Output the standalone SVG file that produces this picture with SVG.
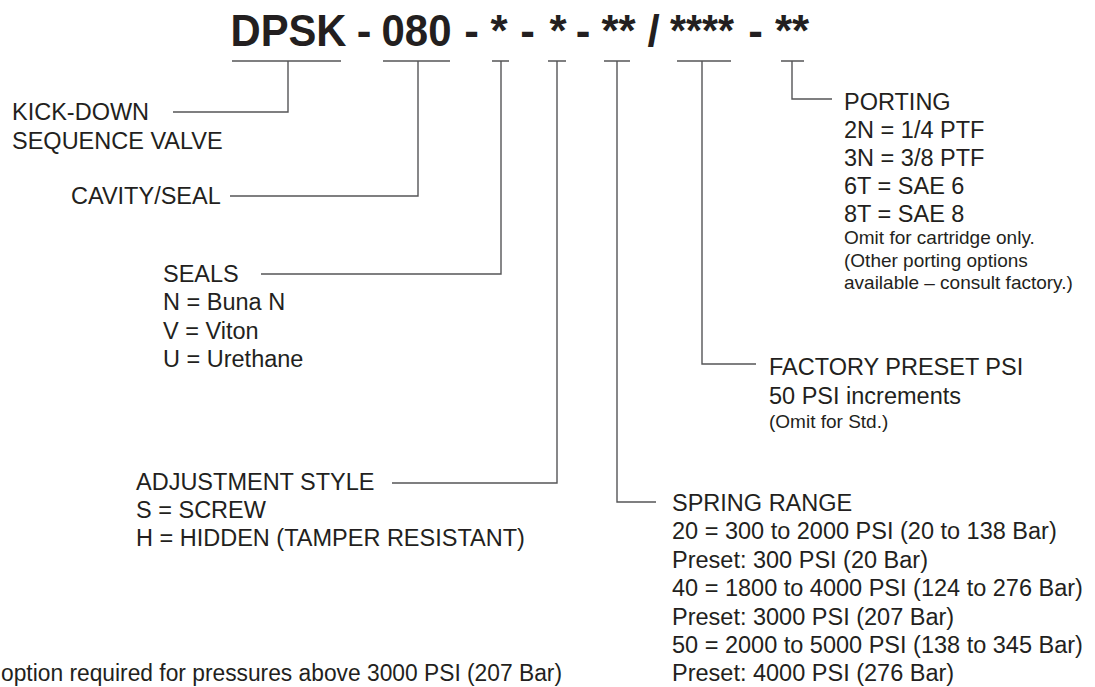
<svg xmlns="http://www.w3.org/2000/svg" width="1095" height="687" viewBox="0 0 1095 687">
<style>
.t{font-family:"Liberation Sans",Arial,Helvetica,sans-serif;font-size:23.5px;fill:#231f20}
.s{font-family:"Liberation Sans",Arial,Helvetica,sans-serif;font-size:19px;fill:#231f20}
.h{font-family:"Liberation Sans",Arial,Helvetica,sans-serif;font-size:44px;font-weight:bold;fill:#231f20;text-anchor:middle}
.c{fill:none;stroke:#555557;stroke-width:1.4}
</style>
<rect width="1095" height="687" fill="#ffffff"/>
<g id="title">
<text class="h" x="288.5" y="46" textLength="116" lengthAdjust="spacingAndGlyphs">DPSK</text>
<text class="h" x="364" y="46">-</text>
<text class="h" x="416.5" y="46" textLength="70" lengthAdjust="spacingAndGlyphs">080</text>
<text class="h" x="471.5" y="46">-</text>
<text class="h" x="499" y="46">*</text>
<text class="h" x="527.5" y="46">-</text>
<text class="h" x="558" y="46">*</text>
<text class="h" x="583" y="46">-</text>
<text class="h" x="618.5" y="46">**</text>
<text class="h" x="653.5" y="46">/</text>
<text class="h" x="702" y="46" textLength="64" lengthAdjust="spacingAndGlyphs">****</text>
<text class="h" x="755.5" y="46">-</text>
<text class="h" x="792" y="46">**</text>
</g>
<g id="connectors">
<path class="c" d="M232 61H341M288 61V112H173"/>
<path class="c" d="M383 61H450M418 61V196H230"/>
<path class="c" d="M492 61H509M501 61V274H261"/>
<path class="c" d="M548 61H566M557 61V483H392"/>
<path class="c" d="M604 61H630M617 61V502H656"/>
<path class="c" d="M677 61H731M702 61V364H756"/>
<path class="c" d="M781 61H804M792 61V99H832"/>
</g>
<g id="kickdown">
<text class="t" x="12" y="120">KICK-DOWN</text>
<text class="t" x="12" y="149">SEQUENCE VALVE</text>
</g>
<g id="cavity">
<text class="t" x="71" y="204">CAVITY/SEAL</text>
</g>
<g id="seals">
<text class="t" x="163" y="282">SEALS</text>
<text class="t" x="163" y="310">N = Buna N</text>
<text class="t" x="163" y="339">V = Viton</text>
<text class="t" x="163" y="367">U = Urethane</text>
</g>
<g id="adjustment">
<text class="t" x="136" y="490">ADJUSTMENT STYLE</text>
<text class="t" x="136" y="518">S = SCREW</text>
<text class="t" x="136" y="546">H = HIDDEN (TAMPER RESISTANT)</text>
</g>
<g id="note">
<text class="t" x="1" y="681" textLength="561" lengthAdjust="spacingAndGlyphs">option required for pressures above 3000 PSI (207 Bar)</text>
</g>
<g id="spring">
<text class="t" x="672" y="511">SPRING RANGE</text>
<text class="t" x="672" y="539">20 = 300 to 2000 PSI (20 to 138 Bar)</text>
<text class="t" x="672" y="568">Preset: 300 PSI (20 Bar)</text>
<text class="t" x="672" y="596">40 = 1800 to 4000 PSI (124 to 276 Bar)</text>
<text class="t" x="672" y="625">Preset: 3000 PSI (207 Bar)</text>
<text class="t" x="672" y="653">50 = 2000 to 5000 PSI (138 to 345 Bar)</text>
<text class="t" x="672" y="681">Preset: 4000 PSI (276 Bar)</text>
</g>
<g id="preset">
<text class="t" x="769" y="375">FACTORY PRESET PSI</text>
<text class="t" x="769" y="404">50 PSI increments</text>
<text class="s" x="769" y="428">(Omit for Std.)</text>
</g>
<g id="porting">
<text class="t" x="844" y="110">PORTING</text>
<text class="t" x="844" y="138">2N = 1/4 PTF</text>
<text class="t" x="844" y="166">3N = 3/8 PTF</text>
<text class="t" x="844" y="194">6T = SAE 6</text>
<text class="t" x="844" y="222">8T = SAE 8</text>
<text class="s" x="844" y="244">Omit for cartridge only.</text>
<text class="s" x="844" y="267">(Other porting options</text>
<text class="s" x="844" y="289">available – consult factory.)</text>
</g>
</svg>
